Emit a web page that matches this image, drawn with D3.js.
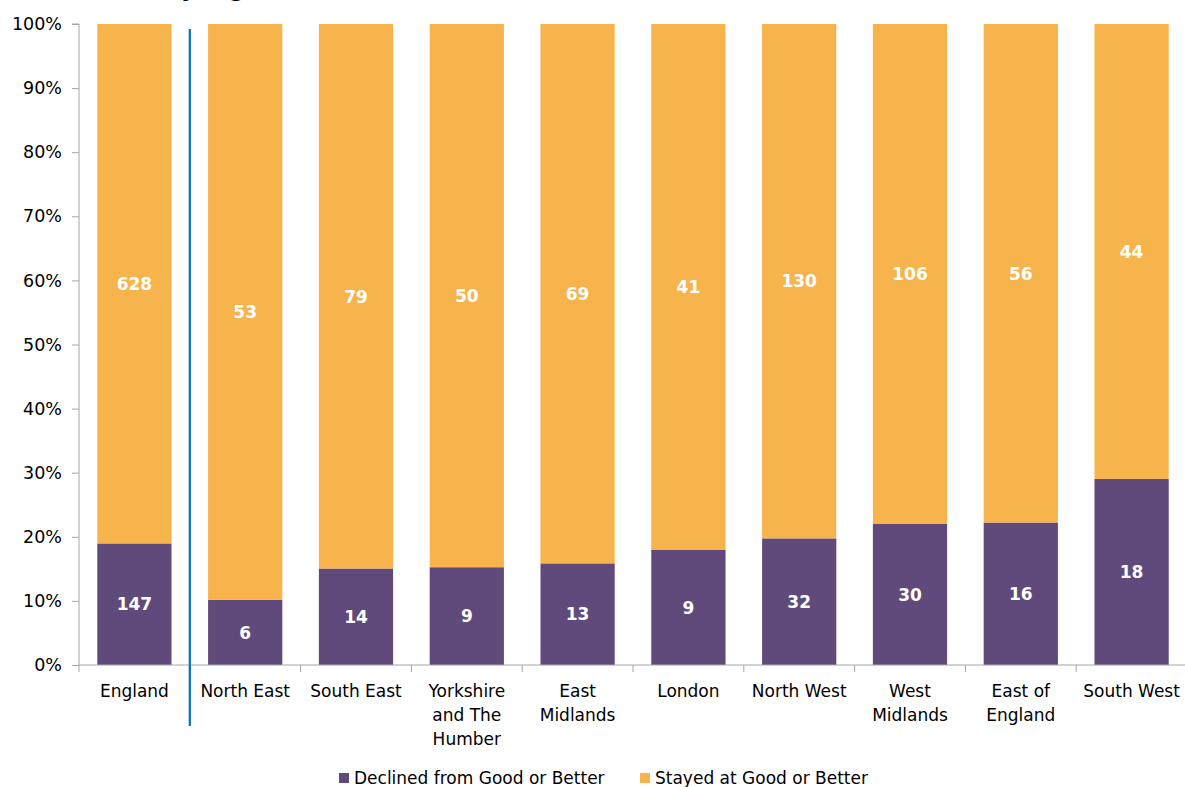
<!DOCTYPE html>
<html>
<head>
<meta charset="utf-8">
<script src="https://cdn.jsdelivr.net/npm/d3@7"></script>
<style>
  html, body { margin: 0; padding: 0; background: #fff; }
  svg { display: block; }
  text { font-family: "DejaVu Sans", Verdana, sans-serif; }
</style>
</head>
<body>
<svg id="chart" width="1185" height="787"></svg>
<script>
// ---- data ----
const categories = ["England", "North East", "South East", "Yorkshire and The Humber", "East Midlands", "London", "North West", "West Midlands", "East of England", "South West"];
const categoryLines = [["England"], ["North East"], ["South East"], ["Yorkshire", "and The", "Humber"], ["East", "Midlands"], ["London"], ["North West"], ["West", "Midlands"], ["East of", "England"], ["South West"]];
const declined = [147, 6, 14, 9, 13, 9, 32, 30, 16, 18];
const stayed = [628, 53, 79, 50, 69, 41, 130, 106, 56, 44];
const seriesNames = ["Declined from Good or Better", "Stayed at Good or Better"];
const yTicks = [0, 0.1, 0.2, 0.3, 0.4, 0.5, 0.6, 0.7, 0.8, 0.9, 1.0];
const titleText = "Outcomes, by region";

// ---- layout ----
const colors = ["#604a7b", "#f8b44c"];
const svg = d3.select("#chart");
const plotL = 79, plotR = 1187, plotT = 24, plotB = 665;

const x = d3.scaleBand().domain(categories).range([plotL, plotR]).paddingInner(0.33).paddingOuter(0.165);
const y = d3.scaleLinear().domain([0, 1]).range([plotB, plotT]);

const rows = categories.map((c, i) => ({ cat: c, d: declined[i], s: stayed[i], total: declined[i] + stayed[i] }));

// title: cut off at the top edge in the reference (only descenders visible)
svg.append("text").attr("x", 283).attr("y", -3).attr("text-anchor", "end")
  .attr("font-size", 22).attr("font-weight", "bold").attr("fill", "#000")
  .text(titleText);

// stacked bars
const g = svg.append("g");
rows.forEach(r => {
  const pd = r.d / r.total;
  g.append("rect").attr("x", x(r.cat)).attr("width", x.bandwidth())
    .attr("y", y(pd)).attr("height", y(0) - y(pd)).attr("fill", colors[0]);
  g.append("rect").attr("x", x(r.cat)).attr("width", x.bandwidth())
    .attr("y", y(1)).attr("height", y(pd) - y(1)).attr("fill", colors[1]);
  g.append("text").attr("x", x(r.cat) + x.bandwidth() / 2).attr("y", (y(0) + y(pd)) / 2)
    .attr("text-anchor", "middle").attr("dy", "0.37em")
    .attr("font-size", 17).attr("font-weight", "bold").attr("fill", "#fff").text(r.d);
  g.append("text").attr("x", x(r.cat) + x.bandwidth() / 2).attr("y", (y(1) + y(pd)) / 2)
    .attr("text-anchor", "middle").attr("dy", "0.37em")
    .attr("font-size", 17).attr("font-weight", "bold").attr("fill", "#fff").text(r.s);
});

// y axis
const yAxis = d3.axisLeft(y).tickValues(yTicks).tickFormat(d3.format(".0%")).tickSize(7).tickPadding(10);
const ya = svg.append("g").attr("transform", `translate(${plotL},0)`).call(yAxis);
ya.select(".domain").attr("stroke", "#a6a6a6").attr("d", `M-7,${plotT}H0V${plotB}`);
ya.selectAll(".tick line").attr("stroke", "#a6a6a6");
ya.selectAll(".tick text").attr("font-size", 17.5).attr("fill", "#000")
  .style("font-family", '"DejaVu Sans", Verdana, sans-serif');

// x axis line
svg.append("line").attr("x1", plotL).attr("x2", 1185).attr("y1", plotB).attr("y2", plotB).attr("stroke", "#a6a6a6");
const step = x.step();
d3.range(categories.length + 1).forEach(i => {
  const xx = plotL + i * step;
  svg.append("line").attr("x1", xx).attr("x2", xx).attr("y1", plotB).attr("y2", plotB + 7).attr("stroke", "#a6a6a6");
});

// category labels
categories.forEach((c, i) => {
  const t = svg.append("text").attr("x", x(c) + x.bandwidth() / 2).attr("y", 697)
    .attr("text-anchor", "middle").attr("font-size", 17).attr("fill", "#000");
  categoryLines[i].forEach((ln, j) => {
    t.append("tspan").attr("x", x(c) + x.bandwidth() / 2).attr("y", 697 + j * 24).text(ln);
  });
});

// separator line between England and regions
const sepX = (x(categories[0]) + x.bandwidth() + x(categories[1])) / 2;
svg.append("line").attr("x1", sepX).attr("x2", sepX).attr("y1", 29).attr("y2", 726)
  .attr("stroke", "#0070c0").attr("stroke-width", 2.2);

// legend
const legendItems = [{ name: seriesNames[0], color: colors[0], x: 339 }, { name: seriesNames[1], color: colors[1], x: 640 }];
legendItems.forEach(it => {
  svg.append("rect").attr("x", it.x).attr("y", 773).attr("width", 10).attr("height", 10).attr("fill", it.color);
  svg.append("text").attr("x", it.x + 15).attr("y", 784).attr("font-size", 17).attr("fill", "#000").text(it.name);
});
</script>
</body>
</html>
